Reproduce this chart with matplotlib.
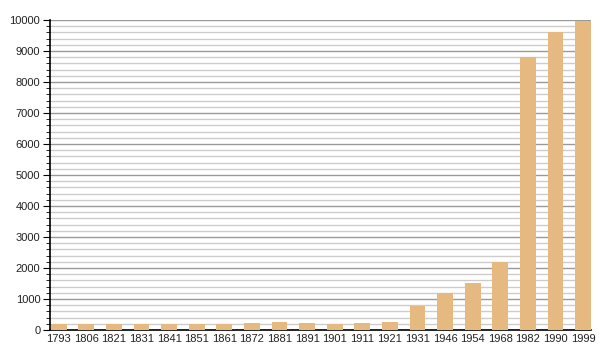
import numpy as np
import matplotlib.pyplot as plt
from matplotlib.ticker import MultipleLocator

years = ['1793', '1806', '1821', '1831', '1841', '1851', '1861', '1872', '1881', '1891',
         '1901', '1911', '1921', '1931', '1946', '1954', '1968', '1982', '1990', '1999']
population = [195, 200, 190, 195, 185, 185, 185, 240, 270, 235,
              200, 230, 270, 780, 1180, 1520, 2180, 8800, 9600, 9970]

plt.rcParams['font.family'] = ['Liberation Sans', 'DejaVu Sans']

fig = plt.figure(figsize=(6, 3.6), dpi=100)
ax = fig.add_axes([50 / 600, 30 / 360, 541 / 600, 310 / 360])

x = np.arange(len(years))
w = 0.57
ax.bar(x, population, width=w, color='#e5b97f', zorder=3)

ax.set_xlim(-w / 2 - 0.03, len(years) - 1 + w / 2)
ax.set_ylim(0, 10000)
ax.set_xticks(x)
ax.set_xticklabels(years)
ax.yaxis.set_major_locator(MultipleLocator(1000))
ax.yaxis.set_minor_locator(MultipleLocator(200))

ax.grid(axis='y', which='major', color='#999999', linewidth=1, zorder=0)
ax.grid(axis='y', which='minor', color='#cccccc', linewidth=1, zorder=0)

for s in ['top', 'right']:
    ax.spines[s].set_visible(False)
ax.spines['left'].set_linewidth(1.2)
ax.spines['bottom'].set_linewidth(1.2)

ax.tick_params(axis='both', labelcolor='#222222')
ax.tick_params(axis='x', length=0, labelsize=8, pad=3)
ax.tick_params(axis='y', which='major', length=5, labelsize=8, pad=2)
ax.tick_params(axis='y', which='minor', length=3)

fig.savefig('out.png', dpi=100)
